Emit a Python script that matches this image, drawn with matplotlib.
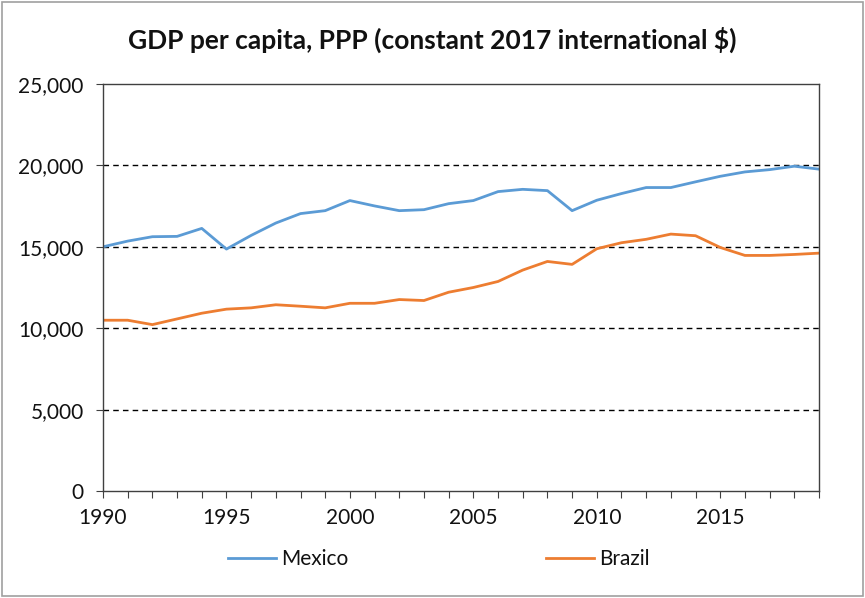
import matplotlib.pyplot as plt
from matplotlib.ticker import FuncFormatter, MultipleLocator
from matplotlib.patches import Rectangle

plt.rcParams['font.family'] = ['Lato', 'DejaVu Sans']

years = list(range(1990, 2020))
mexico = [15000, 15350, 15620, 15640, 16130, 14860, 15700, 16460, 17040, 17220,
          17840, 17510, 17220, 17280, 17650, 17840, 18390, 18530, 18450, 17220,
          17860, 18270, 18640, 18640, 18990, 19330, 19600, 19740, 19950, 19770]
brazil = [10490, 10490, 10220, 10570, 10920, 11170, 11250, 11440, 11350, 11250,
          11530, 11530, 11760, 11700, 12210, 12500, 12870, 13570, 14100, 13920,
          14880, 15250, 15460, 15780, 15680, 14960, 14470, 14470, 14530, 14610]
year_labels = [1990, 1995, 2000, 2005, 2010, 2015]

W, H = 865, 598
fig = plt.figure(figsize=(W / 100, H / 100), dpi=100)
ax = fig.add_axes([103 / W, 1 - 491 / H, (819 - 103) / W, (491 - 84) / H])

ax.plot(years, mexico, color='#5B9BD5', lw=2.0, label='Mexico')
ax.plot(years, brazil, color='#ED7D31', lw=2.0, label='Brazil')

ax.set_xlim(1990, 2019)
ax.set_ylim(0, 25000)
ax.yaxis.set_major_locator(MultipleLocator(5000))
ax.yaxis.set_major_formatter(FuncFormatter(lambda v, p: f'{int(v):,}'))
ax.set_xticks(years)
ax.set_xticklabels([str(y) if y in year_labels else '' for y in years])

for v in [5000, 10000, 15000, 20000]:
    ax.axhline(v, color='black', lw=1.0, ls=(0, (4, 3)), zorder=0)

for s in ax.spines.values():
    s.set_color('#404040')
    s.set_linewidth(1.0)
ax.tick_params(axis='both', direction='out', color='#404040', length=5,
               labelsize=15, labelcolor='#111111')
ax.tick_params(axis='x', pad=7)
ax.tick_params(axis='y', pad=9)

fig.text(0.5, 1 - 40 / H, 'GDP per capita, PPP (constant 2017 international $)',
         ha='center', va='center', fontsize=19, fontweight='bold',
         color='#111111')

leg = fig.legend(loc='center', bbox_to_anchor=(439 / W, 1 - 559 / H), ncol=2,
                 frameon=False, fontsize=15, handlelength=2.3,
                 handletextpad=0.25, columnspacing=9.5)
for t in leg.get_texts():
    t.set_color('#111111')

fig.patches.append(Rectangle((2 / W, 2 / H), (W - 4) / W, (H - 4) / H,
                             transform=fig.transFigure, fill=False,
                             edgecolor='#A0A0A0', lw=1.2))

fig.savefig('out.png', dpi=100)
